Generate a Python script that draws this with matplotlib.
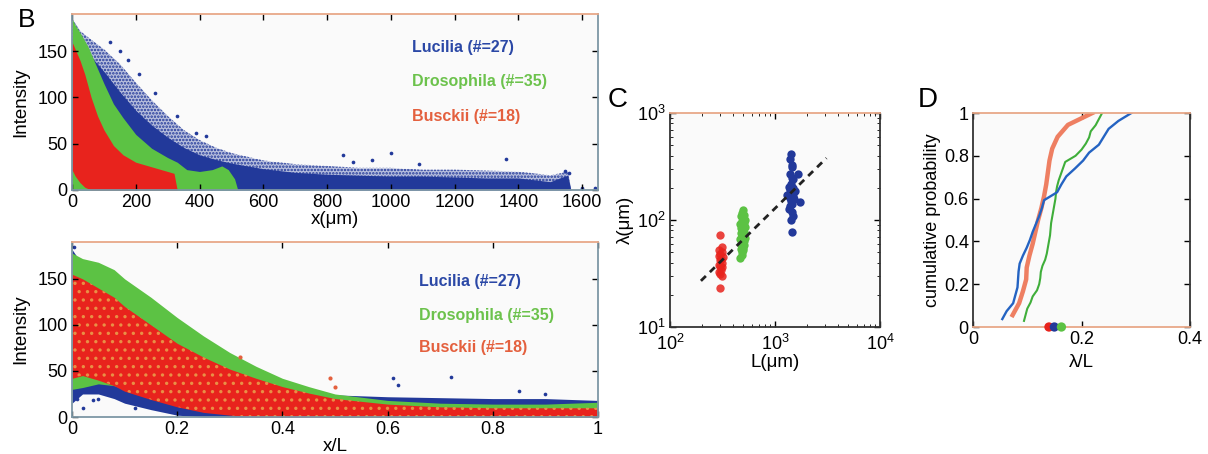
import numpy as np
import matplotlib
matplotlib.use("Agg")
import matplotlib.pyplot as plt

plt.rcParams['font.family'] = ['Liberation Sans', 'DejaVu Sans']
plt.rcParams['mathtext.fontset'] = 'custom'
plt.rcParams['mathtext.rm'] = 'Liberation Sans'
plt.rcParams['hatch.linewidth'] = 1.2

# ---- colours
BLUE = '#22399a'
GREEN = '#5cc244'
RED = '#e8231d'
BLUE_TXT = '#2b48a6'
GREEN_TXT = '#6cc24c'
RED_TXT = '#e4603e'

# ---- panel B (top): intensity vs x(um), envelopes of the point clouds
luc_x = [0, 25, 50, 100, 150, 200, 250, 300, 350, 400, 450, 500, 600, 700, 800,
         900, 1000, 1100, 1200, 1300, 1400, 1450, 1500, 1530, 1555, 1565]
luc_outer = [185, 172, 165, 152, 136, 116, 97, 80, 65, 54, 46, 40, 32, 28, 26,
             24, 24, 22, 22, 21, 20, 18, 16, 18, 20, 0]
luc_core = [165, 158, 148, 128, 106, 86, 70, 57, 46, 38, 33, 29, 23, 19, 17,
            16, 15, 15, 14, 13, 13, 11, 9, 13, 16, 0]
dro_x = [0, 10, 25, 50, 75, 100, 130, 160, 200, 250, 300, 330, 360, 400, 440, 470, 490, 510, 520]
dro_hi = [185, 178, 170, 155, 135, 115, 93, 78, 60, 45, 35, 30, 22, 20, 22, 26, 22, 12, 0]
bus_x = [0, 10, 25, 40, 60, 80, 100, 130, 160, 200, 250, 300, 320, 330]
bus_hi = [160, 152, 140, 125, 100, 80, 65, 48, 38, 30, 25, 20, 18, 0]
bus_lo = [22, 15, 8, 3, 0, 0, 0, 0, 0, 0, 0, 0, 0, 0]

top_out_x = [5, 8, 12, 120, 150, 175, 210, 260, 330, 390, 420, 850, 880, 940, 1000,
             1090, 1360, 1545, 1560, 1600, 1640]
top_out_y = [55, 40, 25, 160, 150, 140, 125, 105, 80, 62, 58, 38, 30, 32, 40,
             28, 33, 20, 18, 2, 2]

# ---- panel B (bottom): intensity vs x/L
rel_x = [0, 0.02, 0.05, 0.08, 0.1, 0.15, 0.2, 0.25, 0.3, 0.35, 0.4, 0.45, 0.5,
         0.6, 0.7, 0.8, 0.9, 1.0]
luc_rel_hi = [182, 165, 135, 115, 105, 85, 68, 55, 44, 36, 30, 27, 24, 22, 21, 20, 20, 18]
luc_rel_lo = [15, 25, 25, 20, 15, 8, 2, 0, 0, 0, 0, 0, 0, 0, 0, 0, 0, 0]
dro_rel_hi = [178, 172, 168, 160, 150, 130, 108, 88, 70, 55, 42, 33, 25, 18, 15, 14, 14, 16]
dro_rel_lo = [30, 32, 36, 34, 30, 22, 12, 6, 3, 2, 1, 1, 0, 0, 0, 0, 0, 0]
bus_rel_hi = [155, 150, 140, 130, 120, 100, 80, 65, 52, 42, 33, 26, 20, 14, 11, 10, 10, 10]
bus_rel_lo = [42, 45, 40, 34, 28, 19, 11, 5, 2, 0, 0, 0, 0, 0, 0, 0, 0, 0]

bot_blue_out_x = [0.003, 0.006, 0.01, 0.02, 0.04, 0.05, 0.12, 0.28, 0.61, 0.62, 0.72, 0.85, 0.9]
bot_blue_out_y = [185, 60, 20, 10, 18, 20, 10, 58, 42, 35, 43, 28, 25]
bot_red_out_x = [0.32, 0.49, 0.50]
bot_red_out_y = [65, 42, 33]

# ---- panel C: decay length vs embryo length
bus_L = [300, 310, 295, 315, 300, 290, 320, 305, 300, 310, 295, 300, 315, 305, 290, 300, 310, 300]
bus_lam = [72, 56, 52, 50, 48, 46, 45, 43, 42, 40, 38, 37, 36, 34, 33, 31, 30, 23]
dro_L = [500, 480, 510, 470, 495, 520, 485, 505, 460, 490, 515, 475, 500, 480, 510, 490,
         470, 505, 485, 495, 520, 465, 500, 480, 510, 490, 475, 505, 485, 495, 470, 500, 480, 490, 460]
dro_lam = [124, 117, 112, 108, 104, 100, 97, 94, 91, 88, 86, 84, 82, 80, 78, 76, 75, 73, 72,
           70, 68, 67, 66, 64, 63, 62, 60, 58, 57, 55, 54, 52, 50, 47, 44]
luc_L = [1420, 1400, 1440, 1460, 1670, 1380, 1450, 1500, 1420, 1350, 1480, 1400, 1550, 1440,
         1300, 1470, 1380, 1520, 1420, 1730, 1460, 1400, 1360, 1440, 1480, 1420, 1440]
luc_lam = [416, 372, 330, 310, 268, 270, 245, 240, 215, 205, 200, 190, 185, 178, 172, 168,
           162, 158, 152, 146, 140, 134, 128, 120, 108, 100, 77]
fit_L = [197, 3090]
fit_lam = [27, 379]

# ---- panel D: lambda/L per embryo
bus_ratio = [0.073, 0.085, 0.092, 0.098, 0.099, 0.104, 0.110, 0.115, 0.120, 0.126, 0.131,
             0.135, 0.138, 0.141, 0.146, 0.156, 0.175, 0.220]
luc_ratio = [0.054, 0.062, 0.074, 0.078, 0.082, 0.083, 0.084, 0.086, 0.092, 0.099, 0.105,
             0.110, 0.116, 0.122, 0.127, 0.131, 0.155, 0.163, 0.172, 0.188, 0.203, 0.214,
             0.232, 0.241, 0.250, 0.268, 0.292]
dro_ratio = [0.094, 0.097, 0.100, 0.106, 0.110, 0.118, 0.122, 0.124, 0.125, 0.128, 0.133,
             0.136, 0.138, 0.140, 0.142, 0.143, 0.144, 0.146, 0.148, 0.150, 0.152, 0.153,
             0.155, 0.158, 0.162, 0.166, 0.170, 0.189, 0.200, 0.208, 0.214, 0.217, 0.226,
             0.232, 0.238]
mean_ratio = [0.140, 0.150, 0.163]
mean_colors = [RED, BLUE, GREEN]

labels = ['Lucilia (#=27)', 'Drosophila (#=35)', 'Busckii (#=18)']


def style(ax, spine='#333333'):
    ax.set_facecolor('#fafafa')
    for s in ax.spines.values():
        s.set_color(spine)
        s.set_linewidth(1.3)
    ax.spines['top'].set_color('#e8a888')
    ax.tick_params(direction='in', top=True, right=True, labelsize=13, length=4, width=1, pad=3)
    ax.tick_params(which='minor', direction='in', top=True, right=True, length=2)


fig = plt.figure(figsize=(12.08, 4.54), dpi=100)

# top B
ax1 = fig.add_axes([72 / 1208, 1 - 190 / 454, 526 / 1208, 176 / 454])
style(ax1, '#7d97a5')
ax1.fill_between(luc_x, 0, luc_outer, color=BLUE, alpha=0.3, lw=0)
ax1.fill_between(luc_x, 0, luc_outer, facecolor='none', edgecolor=BLUE, hatch='.....', lw=0)
ax1.fill_between(luc_x, 0, luc_core, color=BLUE, lw=0)
ax1.scatter(top_out_x, top_out_y, s=7, color=BLUE, lw=0)
ax1.fill_between(dro_x, 0, dro_hi, color=GREEN, lw=0)
ax1.fill_between(bus_x, bus_lo, bus_hi, color=RED, lw=0)
ax1.set_xlim(0, 1650)
ax1.set_ylim(0, 190)
ax1.set_xticks(range(0, 1601, 200))
ax1.set_yticks([0, 50, 100, 150])
ax1.set_xlabel('x(μm)', fontsize=13.5, labelpad=0)
ax1.set_ylabel('Intensity', fontsize=13.5, labelpad=6)
for txt, c, yy in zip(labels, [BLUE_TXT, GREEN_TXT, RED_TXT], [0.807, 0.614, 0.415]):
    ax1.text(0.646, yy, txt, color=c, fontsize=11.5, fontweight='bold', va='center',
             transform=ax1.transAxes)

# bottom B
ax2 = fig.add_axes([72 / 1208, 1 - 417 / 454, 526 / 1208, 175 / 454])
style(ax2, '#7d97a5')
ax2.fill_between(rel_x, luc_rel_lo, luc_rel_hi, color=BLUE, lw=0)
ax2.scatter(bot_blue_out_x, bot_blue_out_y, s=7, color=BLUE, lw=0)
ax2.fill_between(rel_x, dro_rel_lo, dro_rel_hi, color=GREEN, lw=0)
ax2.fill_between(rel_x, bus_rel_lo, bus_rel_hi, color=RED, lw=0)
ax2.fill_between(rel_x, bus_rel_lo, bus_rel_hi, facecolor='none', edgecolor='#e98f45',
                 hatch='..', lw=0)
ax2.scatter(bot_red_out_x, bot_red_out_y, s=9, color=RED_TXT, lw=0)
ax2.set_xlim(0, 1)
ax2.set_ylim(0, 190)
ax2.set_xticks([0, 0.2, 0.4, 0.6, 0.8, 1])
ax2.set_xticklabels(['0', '0.2', '0.4', '0.6', '0.8', '1'])
ax2.set_yticks([0, 50, 100, 150])
ax2.set_xlabel('x/L', fontsize=13.5, labelpad=0)
ax2.set_ylabel('Intensity', fontsize=13.5, labelpad=6)
for txt, c, yy in zip(labels, [BLUE_TXT, GREEN_TXT, RED_TXT], [0.775, 0.579, 0.399]):
    ax2.text(0.66, yy, txt, color=c, fontsize=11.5, fontweight='bold', va='center',
             transform=ax2.transAxes)

# C
ax3 = fig.add_axes([670 / 1208, 1 - 327 / 454, 210 / 1208, 214 / 454])
style(ax3)
ax3.set_xscale('log')
ax3.set_yscale('log')
ax3.plot(bus_L, bus_lam, 'o', color=RED, ms=6, alpha=0.85, mec='none')
ax3.plot(dro_L, dro_lam, 'o', color=GREEN, ms=6, mec='none')
ax3.plot(luc_L, luc_lam, 'o', color=BLUE, ms=6, mec='none')
ax3.plot(fit_L, fit_lam, '--', color='#222222', lw=2, dashes=(2.5, 2))
ax3.set_xlim(100, 10000)
ax3.set_ylim(10, 1000)
ax3.tick_params(axis='x', pad=5)
ax3.set_xlabel('L(μm)', fontsize=13.5, labelpad=0)
ax3.set_ylabel('λ(μm)', fontsize=13.5, labelpad=2)

# D
ax4 = fig.add_axes([973 / 1208, 1 - 327 / 454, 217 / 1208, 214 / 454])
style(ax4)
ax4.spines['bottom'].set_color('#e8a888')
for vals, c, lw in [(bus_ratio, '#ee7f62', 3.2), (dro_ratio, '#3fae3a', 1.5), (luc_ratio, '#2463c2', 1.7)]:
    v = np.sort(vals)
    ax4.plot(v, np.arange(1, len(v) + 1) / len(v), color=c, lw=lw)
ax4.scatter(mean_ratio, [0, 0, 0], color=mean_colors, s=45, zorder=5, clip_on=False, lw=0)
ax4.set_xlim(0, 0.4)
ax4.set_ylim(0, 1)
ax4.set_xticks([0, 0.2, 0.4])
ax4.set_xticklabels(['0', '0.2', '0.4'])
ax4.set_yticks([0, 0.2, 0.4, 0.6, 0.8, 1])
ax4.set_yticklabels(['0', '0.2', '0.4', '0.6', '0.8', '1'])
ax4.set_xlabel('λ/L', fontsize=13.5, labelpad=4)
ax4.set_ylabel('cumulative probability', fontsize=13, labelpad=2)

fig.text(27 / 1208, 1 - 20 / 454, 'B', fontsize=19, ha='center', va='center')
fig.text(618 / 1208, 1 - 100 / 454, 'C', fontsize=20, ha='center', va='center')
fig.text(928 / 1208, 1 - 100 / 454, 'D', fontsize=20, ha='center', va='center')

fig.savefig('out.png', dpi=100)
